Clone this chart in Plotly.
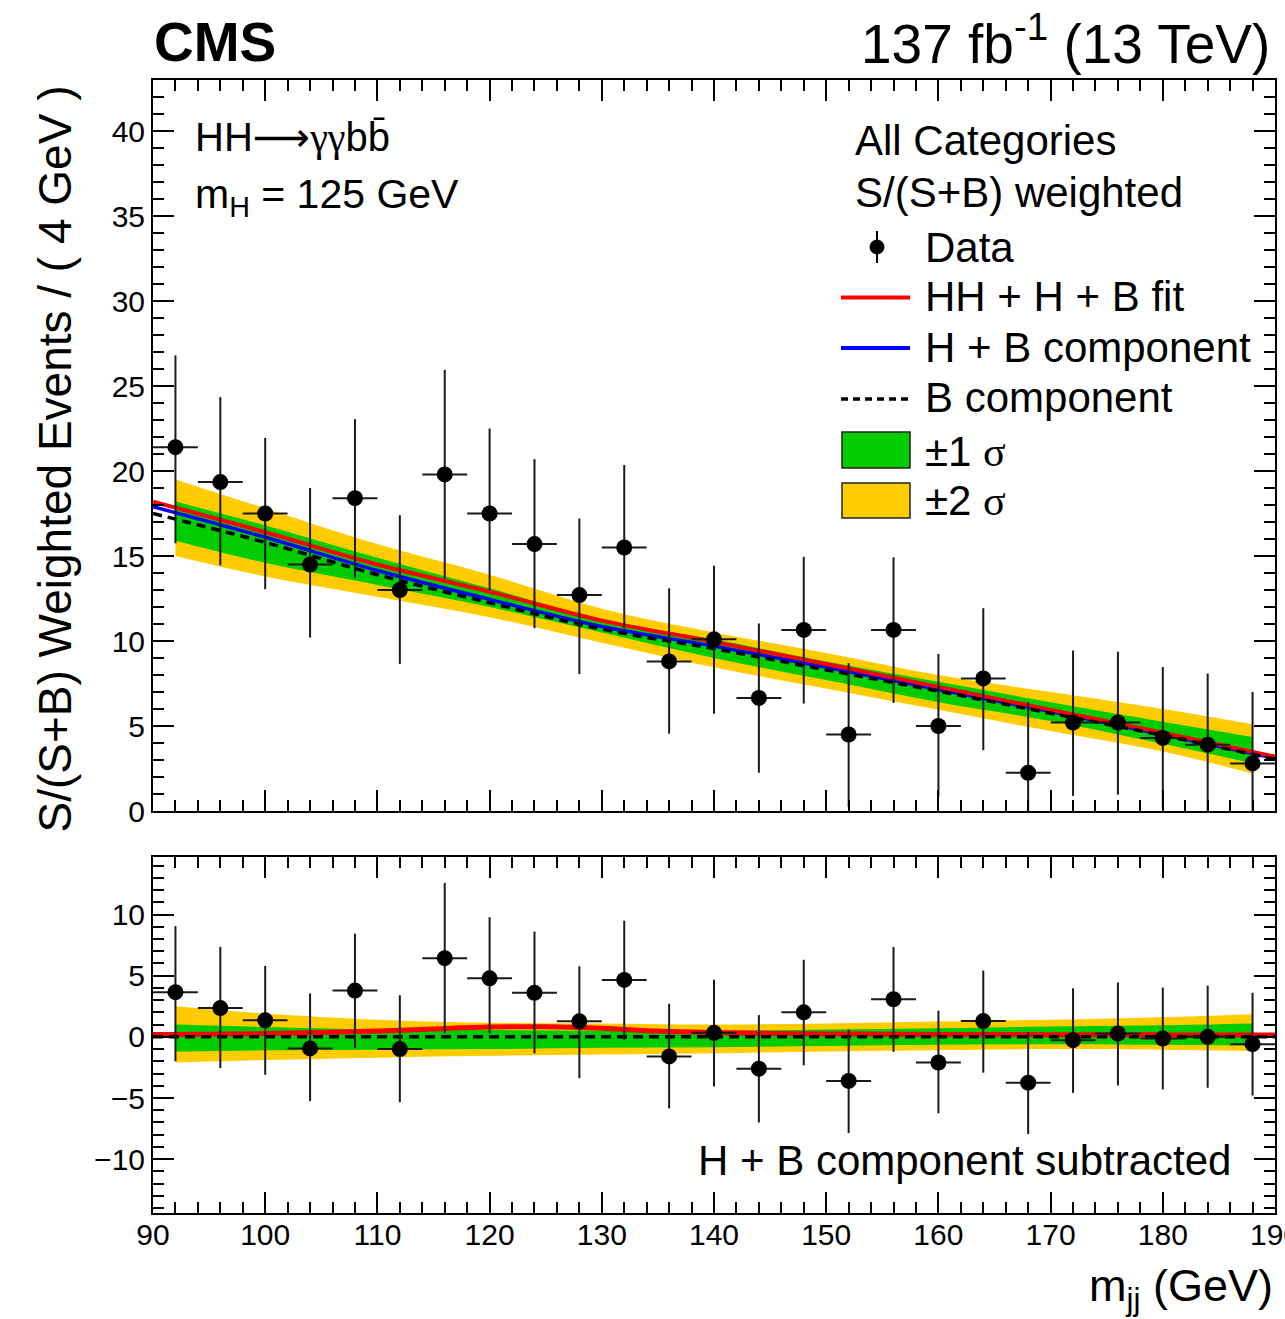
import plotly.graph_objects as go

# ---------------- data ----------------
bin_centers = [92, 96, 100, 104, 108, 112, 116, 120, 124, 128, 132, 136, 140,
               144, 148, 152, 156, 160, 164, 168, 172, 176, 180, 184, 188]
bin_half_width = 2.0
data_top = [21.4, 19.35, 17.5, 14.5, 18.4, 13.0, 19.8, 17.5, 15.7, 12.7, 15.5, 8.8, 10.1,
            6.65, 10.65, 4.5, 10.65, 5.0, 7.8, 2.25, 5.2, 5.2, 4.3, 3.9, 2.8]
data_sub = [3.65, 2.35, 1.35, -0.95, 3.78, -1.0, 6.43, 4.78, 3.6, 1.27, 4.65, -1.6, 0.33,
            -2.6, 2.0, -3.6, 3.07, -2.1, 1.29, -3.75, -0.27, 0.27, -0.14, 0.0, -0.6]
err_up = [5.4, 5.0, 4.45, 4.5, 4.65, 4.4, 6.15, 5.0, 5.0, 4.5, 4.85, 4.3, 4.33,
          4.38, 4.3, 4.2, 4.27, 4.24, 4.13, 4.16, 4.24, 4.17, 4.17, 4.19, 4.2]
err_dn = [5.65, 4.9, 4.45, 4.3, 4.7, 4.35, 6.15, 4.5, 4.95, 4.65, 4.9, 4.25, 4.38,
          4.4, 4.33, 4.26, 4.3, 4.15, 4.22, 4.2, 4.31, 4.24, 4.16, 4.16, 4.2]

# fit curves (top panel)
x_fit = [90, 100, 110, 120, 130, 140, 150, 160, 170, 180, 190]
fit_total = [18.2, 16.4, 14.5, 12.9, 11.2, 9.95, 8.65, 7.3, 5.95, 4.6, 3.2]
fit_hb = [17.9, 16.1, 14.15, 12.45, 10.85, 9.7, 8.45, 7.15, 5.85, 4.5, 3.1]
fit_b = [17.5, 15.8, 13.9, 12.25, 10.7, 9.55, 8.3, 7.05, 5.75, 4.45, 3.05]

# uncertainty bands (top panel)
x_band = [92, 100, 110, 120, 130, 140, 150, 160, 170, 180, 188]
top_2s_hi = [19.5, 17.8, 15.7, 13.9, 11.9, 10.5, 9.3, 8.0, 7.0, 6.0, 5.1]
top_2s_lo = [15.0, 13.8, 12.6, 11.4, 9.9, 8.45, 7.2, 5.95, 4.7, 3.5, 2.2]
top_1s_hi = [18.2, 16.8, 14.9, 13.1, 11.3, 10.1, 8.8, 7.6, 6.4, 5.25, 4.35]
top_1s_lo = [15.9, 14.6, 13.3, 12.0, 10.5, 9.0, 7.7, 6.4, 5.3, 3.95, 2.8]

# bottom panel (H + B subtracted)
x_hh = [90, 95, 100, 105, 110, 115, 120, 125, 130, 135, 140, 145, 150, 155, 160, 165,
        170, 175, 180, 185, 190]
hh_sub = [0.2, 0.22, 0.27, 0.35, 0.47, 0.65, 0.8, 0.82, 0.7, 0.47, 0.35, 0.28, 0.24, 0.22,
          0.2, 0.19, 0.18, 0.17, 0.16, 0.16, 0.15]
x_zero = [90, 190]
b_sub = [0.0, 0.0]
bot_2s_hi = [2.5, 1.9, 1.4, 1.15, 1.1, 1.0, 1.1, 1.25, 1.4, 1.6, 1.85]
bot_2s_lo = [-2.1, -1.9, -1.7, -1.55, -1.45, -1.35, -1.2, -1.1, -1.0, -1.05, -1.15]
bot_1s_hi = [1.0, 0.8, 0.6, 0.55, 0.5, 0.5, 0.6, 0.7, 0.85, 0.95, 1.1]
bot_1s_lo = [-1.2, -1.1, -1.05, -1.0, -0.9, -0.85, -0.75, -0.65, -0.6, -0.65, -0.7]

x_ticks = [90, 100, 110, 120, 130, 140, 150, 160, 170, 180, 190]

# ---------------- style ----------------
YELLOW = "#FFCC00"
GREEN = "#00CC00"
RED = "#FF0000"
BLUE = "#0000FF"
FONT = "Liberation Sans, Arial, Helvetica, sans-serif"
SERIF = "Liberation Serif"

W, H = 1285, 1319
L, R, T, B = 153, 10, 80, 106
PLOT_H = H - T - B


def pxx(px):
    return (px - L) / (W - L - R)


def pxy(py):
    return (H - B - py) / PLOT_H


fig = go.Figure()


def add_band(xa, ya, x, lo, hi, color):
    fig.add_trace(go.Scatter(x=x, y=lo, mode="lines", line=dict(width=0, shape="spline"),
                             xaxis=xa, yaxis=ya, showlegend=False, hoverinfo="skip"))
    fig.add_trace(go.Scatter(x=x, y=hi, mode="lines", line=dict(width=0, shape="spline"),
                             fill="tonexty", fillcolor=color,
                             xaxis=xa, yaxis=ya, showlegend=False, hoverinfo="skip"))


def add_data(xa, ya, y):
    fig.add_trace(go.Scatter(
        x=bin_centers, y=y, mode="markers", xaxis=xa, yaxis=ya, showlegend=False,
        marker=dict(size=16, color="black"),
        error_y=dict(type="data", symmetric=False, array=err_up, arrayminus=err_dn,
                     thickness=2, width=0, color="#1a1a1a"),
        error_x=dict(type="data", array=[bin_half_width] * len(bin_centers),
                     thickness=2, width=0, color="#1a1a1a"),
    ))


# top panel
add_band("x", "y", x_band, top_2s_lo, top_2s_hi, YELLOW)
add_band("x", "y", x_band, top_1s_lo, top_1s_hi, GREEN)
fig.add_trace(go.Scatter(x=x_fit, y=fit_hb, mode="lines", xaxis="x", yaxis="y",
                         line=dict(color=BLUE, width=3.5, shape="spline"), showlegend=False))
fig.add_trace(go.Scatter(x=x_fit, y=fit_total, mode="lines", xaxis="x", yaxis="y",
                         line=dict(color=RED, width=4, shape="spline"), showlegend=False))
fig.add_trace(go.Scatter(x=x_fit, y=fit_b, mode="lines", xaxis="x", yaxis="y",
                         line=dict(color="black", width=3.5, dash="9px,6px", shape="spline"),
                         showlegend=False))
add_data("x", "y", data_top)

# bottom panel
add_band("x2", "y2", x_band, bot_2s_lo, bot_2s_hi, YELLOW)
add_band("x2", "y2", x_band, bot_1s_lo, bot_1s_hi, GREEN)
fig.add_trace(go.Scatter(x=x_hh, y=hh_sub, mode="lines", xaxis="x2", yaxis="y2",
                         line=dict(color=RED, width=5, shape="spline"), showlegend=False))
fig.add_trace(go.Scatter(x=x_zero, y=b_sub, mode="lines", xaxis="x2", yaxis="y2",
                         line=dict(color="black", width=3.5, dash="10px,6px"), showlegend=False))
add_data("x2", "y2", data_sub)

top_dom = [pxy(811), 1.0]
bot_dom = [0.0, pxy(857)]

axis_common = dict(
    showline=True, linecolor="black", linewidth=2, mirror="allticks",
    ticks="inside", ticklen=21, tickwidth=1.5, tickcolor="black",
    showgrid=False, zeroline=False, automargin=False,
    tickfont=dict(family=FONT, size=30, color="black"),
)

fig.update_layout(
    width=W, height=H, autosize=False,
    margin=dict(l=L, r=R, t=T, b=B, autoexpand=False),
    paper_bgcolor="white", plot_bgcolor="white",
    font=dict(family=FONT, color="black"),
    xaxis=dict(domain=[0, 1], anchor="y", range=[90, 190], tickvals=x_ticks,
               showticklabels=False,
               minor=dict(ticks="inside", ticklen=11, tickwidth=1.5, tickcolor="black", dtick=2),
               **axis_common),
    yaxis=dict(domain=top_dom, anchor="x", range=[0, 43], dtick=5, tick0=0,
               minor=dict(ticks="inside", ticklen=11, tickwidth=1.5, tickcolor="black", dtick=1),
               **axis_common),
    xaxis2=dict(domain=[0, 1], anchor="y2", range=[90, 190], tickvals=x_ticks,
                ticklabeloverflow="allow", ticklabelstandoff=-6,
                minor=dict(ticks="inside", ticklen=11, tickwidth=1.5, tickcolor="black", dtick=2),
                **axis_common),
    yaxis2=dict(domain=bot_dom, anchor="x2", range=[-14.4, 14.7], dtick=5, tick0=0,
                minor=dict(ticks="inside", ticklen=11, tickwidth=1.5, tickcolor="black", dtick=1),
                **axis_common),
)

ann = []


def text(x, y, s, size, xanchor="left", yanchor="middle", bold=False, angle=0):
    ann.append(dict(x=x, y=y, xref="paper", yref="paper", text=("<b>%s</b>" % s) if bold else s,
                    showarrow=False, xanchor=xanchor, yanchor=yanchor, textangle=angle,
                    font=dict(family=FONT, size=size, color="black")))


text(pxx(152), pxy(42), "CMS", 55, bold=True)
text(pxx(1272), pxy(40), "137 fb<sup>-1</sup> (13 TeV)", 55, xanchor="right")
text(pxx(55), pxy(84), "S/(S+B) Weighted Events / ( 4 GeV )", 46, xanchor="center",
     yanchor="top", angle=-90)
text(pxx(1275), pxy(1288), "m<sub>jj</sub> (GeV)", 45, xanchor="right")

text(pxx(193), pxy(137),
     "HH<span style='font-family:DejaVu Sans'>\u27f6</span>"
     "<span style='font-family:%s'>\u03b3\u03b3</span>bb\u0304" % SERIF, 40)
text(pxx(193), pxy(197), "m<sub>H</sub> = 125 GeV", 41)

text(pxx(853), pxy(140), "All Categories", 42)
text(pxx(853), pxy(192), "S/(S+B) weighted", 42)
text(pxx(923), pxy(247), "Data", 42)
text(pxx(923), pxy(297), "HH + H + B fit", 42)
text(pxx(923), pxy(348), "H + B component", 42)
text(pxx(923), pxy(397), "B component", 42)
text(pxx(923), pxy(451), "\u00b11 <span style='font-family:%s'>\u03c3</span>" % SERIF, 42)
text(pxx(923), pxy(500), "\u00b12 <span style='font-family:%s'>\u03c3</span>" % SERIF, 42)

text(pxx(1233), pxy(1160), "H + B component subtracted", 42, xanchor="right")

fig.update_layout(annotations=ann)

shapes = []
# legend symbols
shapes.append(dict(type="line", xref="paper", yref="paper", x0=pxx(841), x1=pxx(910),
                   y0=pxy(297.5), y1=pxy(297.5), line=dict(color=RED, width=4)))
shapes.append(dict(type="line", xref="paper", yref="paper", x0=pxx(841), x1=pxx(910),
                   y0=pxy(348), y1=pxy(348), line=dict(color=BLUE, width=4)))
shapes.append(dict(type="line", xref="paper", yref="paper", x0=pxx(841), x1=pxx(910),
                   y0=pxy(399), y1=pxy(399), line=dict(color="black", width=3.5, dash="7px,5px")))
shapes.append(dict(type="rect", xref="paper", yref="paper", x0=pxx(842), x1=pxx(910),
                   y0=pxy(468), y1=pxy(432), fillcolor=GREEN, line=dict(color="#222", width=1.5)))
shapes.append(dict(type="rect", xref="paper", yref="paper", x0=pxx(842), x1=pxx(910),
                   y0=pxy(518), y1=pxy(483), fillcolor=YELLOW, line=dict(color="#222", width=1.5)))
shapes.append(dict(type="line", xref="paper", yref="paper", x0=pxx(877), x1=pxx(877),
                   y0=pxy(231), y1=pxy(263), line=dict(color="black", width=2)))
shapes.append(dict(type="circle", xref="paper", yref="paper", x0=pxx(870), x1=pxx(884),
                   y0=pxy(254), y1=pxy(240), fillcolor="black", line=dict(color="black", width=1)))
fig.update_layout(shapes=shapes)

fig.write_html("out.html")
